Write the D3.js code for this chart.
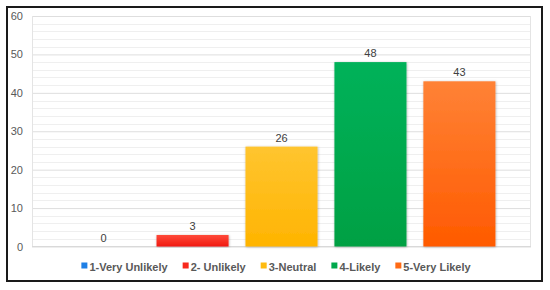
<!DOCTYPE html>
<html><head><meta charset="utf-8">
<script src="https://cdn.jsdelivr.net/npm/d3@7"></script>
<style>body{margin:0;background:#fff}svg{display:block;font-family:"Liberation Sans",Arial,sans-serif}</style>
</head><body><svg id="c" width="550" height="290"></svg>
<script>
const categories = ["1-Very Unlikely","2- Unlikely","3-Neutral","4-Likely","5-Very Likely"];
const values = [0,3,26,48,43];
const yTicks = [0,10,20,30,40,50,60];
const colorsTop = ["#3a90ee","#ff4a3a","#ffc530","#00b25a","#ff8236"];
const colorsBottom = ["#1e7fe6","#f01a10","#ffb400","#00a043","#ff5a00"];
const legendColors = ["#1e7fe6","#f8281c","#ffbb10","#00a84c","#ff6a14"];

const svg = d3.select("#c");
svg.append("rect").attr("x",7).attr("y",7).attr("width",535).attr("height",274)
  .attr("fill","#fff").attr("stroke","#1a1a1a").attr("stroke-width",2);

const L=32,R=531,T=16,B=246.5;
const x = d3.scaleBand().domain(categories).range([L,R]).paddingInner(0.19).paddingOuter(0.4);
const y = d3.scaleLinear().domain([0,60]).range([B,T]);

const defs = svg.append("defs");
categories.forEach((c,i)=>{
  const g = defs.append("linearGradient").attr("id","g"+i).attr("x1",0).attr("y1",0).attr("x2",0).attr("y2",1);
  g.append("stop").attr("offset","0%").attr("stop-color",colorsTop[i]);
  g.append("stop").attr("offset","100%").attr("stop-color",colorsBottom[i]);
});
const f = defs.append("filter").attr("id","sh").attr("x","-10%").attr("y","-10%").attr("width","120%").attr("height","120%");
f.append("feDropShadow").attr("dx",0.5).attr("dy",0.5).attr("stdDeviation",0.8).attr("flood-color","#000").attr("flood-opacity",0.3);

// minor grid
const minor = d3.range(0,61,2).filter(v=>v%10!==0);
svg.append("g").selectAll("line").data(minor).join("line")
  .attr("x1",L).attr("x2",R).attr("y1",d=>Math.round(y(d))+0.5).attr("y2",d=>Math.round(y(d))+0.5)
  .attr("stroke","#efefef").attr("stroke-width",1);
// major grid via axis
const ax = svg.append("g").attr("transform",`translate(${L},0)`)
  .call(d3.axisLeft(y).tickValues(yTicks).tickSize(-(R-L)).tickPadding(9));
ax.select(".domain").remove();
ax.selectAll(".tick line").attr("stroke","#dedede");
ax.selectAll(".tick text").attr("fill","#595959").attr("font-size","11px").attr("font-family","Liberation Sans, Arial, sans-serif");
// vertical frame lines
svg.append("line").attr("x1",L+0.5).attr("x2",L+0.5).attr("y1",T).attr("y2",B).attr("stroke","#e4e4e4");
svg.append("line").attr("x1",R-0.5).attr("x2",R-0.5).attr("y1",T).attr("y2",B).attr("stroke","#e4e4e4");
svg.append("line").attr("x1",L).attr("x2",R).attr("y1",B).attr("y2",B).attr("stroke","#d9d9d9");

// bars
svg.append("g").selectAll("rect").data(values).join("rect")
  .attr("x",(d,i)=>x(categories[i])).attr("width",x.bandwidth())
  .attr("y",d=>y(d)).attr("height",d=>B-y(d))
  .attr("fill",(d,i)=>`url(#g${i})`).attr("filter","url(#sh)");

// labels
svg.append("g").selectAll("text").data(values).join("text")
  .attr("x",(d,i)=>x(categories[i])+x.bandwidth()/2).attr("y",d=>y(d)-5)
  .attr("text-anchor","middle").attr("fill","#404040").attr("font-size","11px").text(d=>d);

// legend
const lg = svg.append("g");
const gap = 15, sq = 6;
let tmp = lg.selectAll("text").data(categories).join("text")
  .attr("font-size","11px").attr("font-weight","bold").attr("fill","#595959").text(d=>d);
const widths = [];
tmp.each(function(){widths.push(this.getComputedTextLength());});
const total = d3.sum(widths) + categories.length*(sq+2) + (categories.length-1)*gap;
let cx = 276 - total/2;
const ly = 270.5;
categories.forEach((c,i)=>{
  lg.append("rect").attr("x",cx).attr("y",ly-8).attr("width",sq).attr("height",sq).attr("fill",legendColors[i]);
  tmp.filter((d,j)=>j===i).attr("x",cx+sq+2).attr("y",ly);
  cx += sq+2+widths[i]+gap;
});
</script></body></html>
